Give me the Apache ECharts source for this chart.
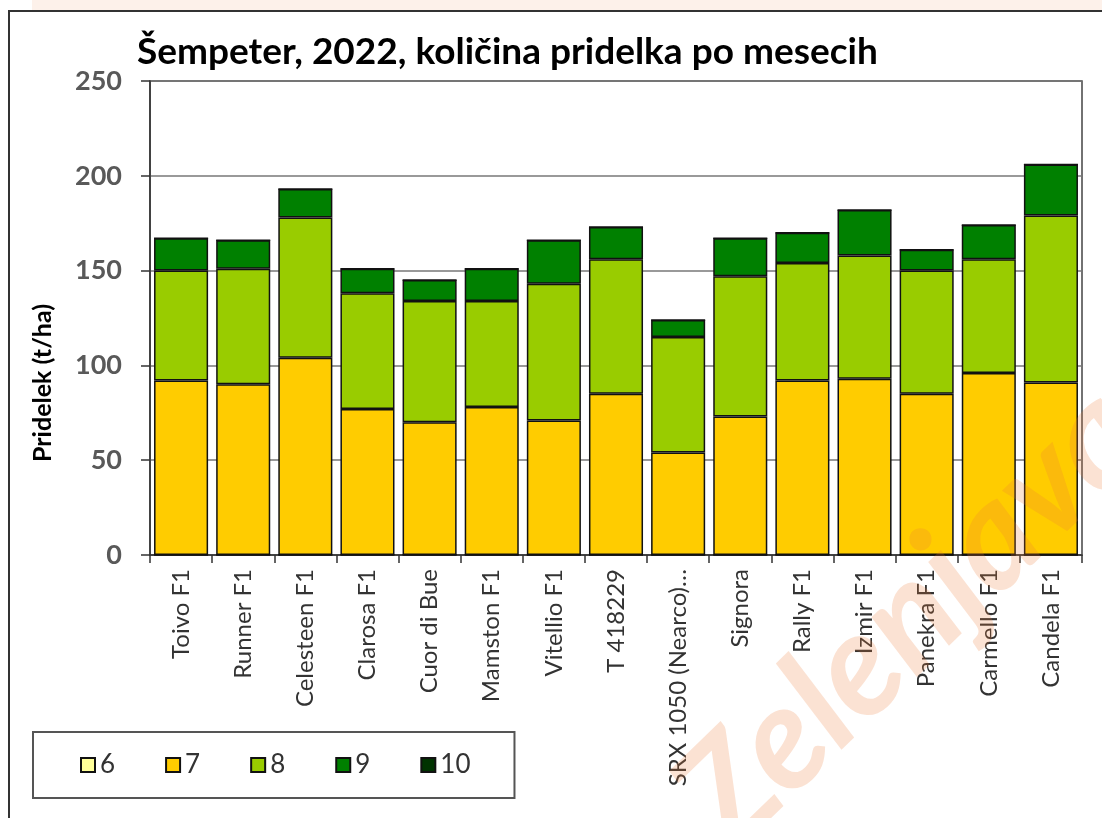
<!DOCTYPE html>
<html>
<head>
<meta charset="utf-8">
<title>Šempeter 2022</title>
<script src="https://cdn.jsdelivr.net/npm/echarts@6/dist/echarts.min.js"></script>
<style>
  html, body { margin: 0; padding: 0; background: #fff; }
  #chart { width: 1102px; height: 818px; }
</style>
</head>
<body>
<div id="chart"></div>
<script>
  // sorte
  var categories = ['Toivo F1', 'Runner F1', 'Celesteen F1', 'Clarosa F1', 'Cuor di Bue', 'Mamston F1',
    'Vitellio F1', 'T 418229', 'SRX 1050 (Nearco)…', 'Signora', 'Rally F1', 'Izmir F1',
    'Panekra F1', 'Carmello F1', 'Candela F1']
  // pridelek po mesecih (t/ha)
  var month6 = [0, 0, 0, 0, 0, 0, 0, 0, 0, 0, 0, 0, 0, 0, 0]
  var month7 = [92, 90, 104, 77, 70, 78, 71, 85, 54, 73, 92, 93, 85, 96, 91]
  var month8 = [58, 61, 74, 61, 64, 56, 72, 71, 61, 74, 62, 65, 65, 60, 88]
  var month9 = [17, 15, 15, 13, 11, 17, 23, 17, 9, 20, 16, 24, 11, 18, 27]
  var month10 = [0, 0, 0, 0, 0, 0, 0, 0, 0, 0, 0, 0, 0, 0, 0]
  var monthNames = ['6', '7', '8', '9', '10']
  var yTicks = [0, 50, 100, 150, 200, 250]

  var colors = ['#FFFF99', '#FFCC00', '#99CC00', '#008000', '#003300']
  var values = [month6, month7, month8, month9, month10]

  var chart = echarts.init(document.getElementById('chart'))

  var series = monthNames.map(function (name, i) {
    return {
      name: name,
      type: 'bar',
      stack: 'total',
      barCategoryGap: '13%',
      itemStyle: { color: colors[i], borderColor: '#111', borderWidth: 1.5 },
      data: values[i]
    }
  })

  chart.setOption({
    backgroundColor: '#fff',
    animation: false,
    title: {
      text: 'Šempeter, 2022, količina pridelka po mesecih',
      left: 132,
      top: 29,
      textStyle: { fontFamily: 'Lato', fontWeight: 'bold', fontSize: 37, color: '#000' }
    },
    legend: {
      data: monthNames,
      left: 33,
      top: 732,
      orient: 'horizontal',
      icon: 'rect',
      itemWidth: 14,
      itemHeight: 14,
      itemGap: 50,
      padding: [20, 44, 20, 47],
      borderColor: '#555',
      borderWidth: 2,
      textStyle: { fontFamily: 'Lato', fontSize: 26, color: '#333' }
    },
    grid: {
      left: 150,
      right: 20,
      top: 81,
      bottom: 263,
      show: true,
      borderColor: '#444',
      borderWidth: 1.5
    },
    xAxis: {
      type: 'category',
      data: categories,
      axisLine: { lineStyle: { color: '#333', width: 1.5 } },
      axisTick: { show: true, length: 8, lineStyle: { color: '#333', width: 1.5 } },
      axisLabel: {
        rotate: 90,
        interval: 0,
        margin: 14,
        fontFamily: 'Lato',
        fontSize: 24,
        color: '#333'
      }
    },
    yAxis: {
      type: 'value',
      min: yTicks[0],
      max: yTicks[yTicks.length - 1],
      interval: 50,
      axisLine: { show: true, lineStyle: { color: '#333', width: 1.5 } },
      axisTick: { show: true, length: 9, lineStyle: { color: '#333', width: 1.5 } },
      splitLine: { lineStyle: { color: '#777', width: 1.5 } },
      axisLabel: {
        margin: 28,
        fontFamily: 'Lato',
        fontWeight: 'bold',
        fontSize: 27,
        color: '#595959'
      }
    },
    graphic: [
      {
        type: 'rect',
        shape: { x: 32, y: 0, width: 1070, height: 11 },
        style: { fill: '#fdf1ea' },
        silent: true
      },
      {
        type: 'rect',
        shape: { x: 9, y: 11, width: 1100, height: 820 },
        style: { fill: null, stroke: '#333', lineWidth: 2 },
        silent: true
      },
      {
        type: 'text',
        x: 43,
        y: 383,
        rotation: Math.PI / 2,
        style: {
          text: 'Pridelek (t/ha)',
          fontFamily: 'Lato',
          fontWeight: 'bold',
          fontSize: 25,
          fill: '#000',
          align: 'center',
          verticalAlign: 'middle'
        }
      },
      {
        type: 'text',
        x: 700,
        y: 822,
        rotation: 0.77,
        z: 100,
        silent: true,
        style: {
          text: 'Zelenjava',
          fontFamily: 'Lato',
          fontWeight: 'bold',
          fontStyle: 'italic',
          fontSize: 145,
          fill: 'rgba(238, 125, 55, 0.22)',
          align: 'left',
          verticalAlign: 'middle'
        }
      }
    ],
    series: series
  })
</script>
</body>
</html>
